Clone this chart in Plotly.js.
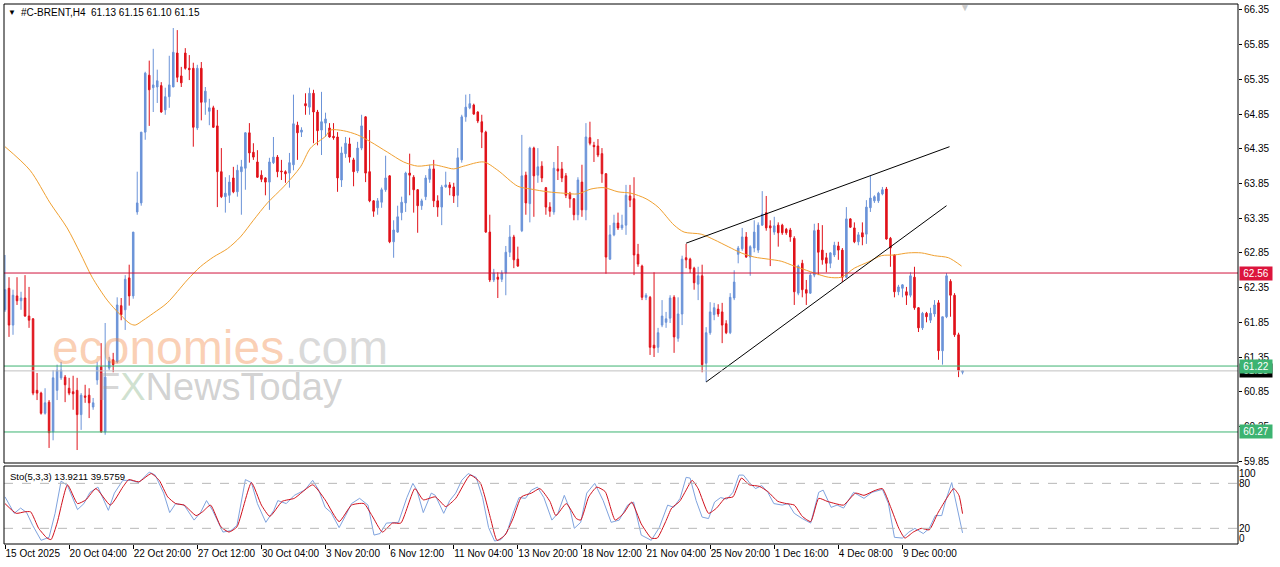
<!DOCTYPE html>
<html><head><meta charset="utf-8">
<script src="https://cdn.plot.ly/plotly-3.0.1.min.js"></script>
<style>html,body{margin:0;padding:0;background:#fff;}#chart{width:1280px;height:567px;}</style>
</head><body><div id="chart"></div>
<script>
// ---- Candles (H4 bars, index order) ----
const opens = [62.03,62.34,61.81,62.23,62.16,62.20,61.94,61.90,60.87,60.83,60.54,60.70,60.27,60.87,61.05,61.06,60.90,60.85,60.87,60.52,60.79,60.80,60.63,61.02,61.21,60.27,61.19,61.31,61.28,62.09,62.03,62.49,62.23,63.44,63.57,64.59,65.41,65.23,65.24,65.26,64.91,65.10,65.24,65.73,65.40,65.73,65.51,65.51,64.65,65.51,65.02,64.89,64.94,64.68,64.02,63.66,63.68,63.93,63.73,64.02,64.07,64.58,64.30,64.16,63.97,63.93,63.87,64.15,64.23,64.03,64.02,64.00,64.12,64.69,64.59,65.00,64.95,65.15,64.88,64.62,64.72,64.65,64.53,64.52,63.90,64.28,64.42,64.19,64.03,64.36,64.81,64.02,63.60,63.50,63.58,63.76,63.96,63.01,63.15,63.43,63.57,64.00,63.94,63.76,63.53,63.66,63.91,64.06,63.60,63.51,63.80,63.83,63.80,63.68,64.19,64.81,64.94,64.98,64.88,64.74,64.59,63.15,62.46,62.50,62.47,62.56,62.86,63.08,62.76,63.17,63.97,63.56,64.36,63.97,64.10,63.79,63.51,63.44,64.06,64.06,63.96,63.71,63.63,63.40,63.87,63.47,64.51,64.40,64.39,64.28,63.99,62.76,63.11,63.28,63.21,63.25,63.67,63.63,62.83,62.66,62.21,62.21,61.52,61.49,61.81,61.85,61.91,62.21,61.62,61.97,62.78,62.76,62.63,62.40,62.52,61.26,61.70,61.96,62.04,62.00,61.83,61.70,62.20,62.83,62.91,63.08,62.79,62.92,62.89,63.25,63.43,63.24,63.15,63.25,63.25,63.19,63.18,63.06,62.27,62.70,62.32,62.27,62.53,63.18,62.89,62.78,62.70,62.82,62.95,62.89,62.50,63.34,63.21,63.01,63.14,63.12,63.50,63.60,63.60,63.70,63.77,63.06,62.82,62.29,62.34,62.29,62.24,62.50,62.06,61.77,61.98,61.88,61.97,62.13,61.44,61.93,62.44,62.24,61.67,61.13];
const highs = [62.82,62.50,62.32,62.50,62.29,62.53,62.36,61.91,61.12,60.85,60.90,60.73,61.16,61.24,61.28,61.09,61.05,61.08,61.05,60.83,60.95,60.90,60.76,61.28,61.55,61.84,61.35,61.41,62.21,62.20,62.53,62.68,63.15,64.02,64.59,65.46,65.62,65.79,65.49,65.31,65.23,65.69,66.09,66.06,65.53,65.80,65.70,65.59,65.56,65.60,65.24,65.07,64.97,64.91,64.36,63.94,63.97,64.09,64.12,64.19,64.59,64.72,64.43,64.33,64.04,63.94,64.22,64.52,64.26,64.19,64.04,64.29,65.13,64.74,64.66,65.15,65.23,65.20,64.91,65.17,64.87,64.72,64.72,64.59,64.38,64.52,64.51,64.22,64.45,64.84,64.82,64.62,63.61,63.64,63.79,64.25,63.97,63.32,63.53,63.66,64.02,64.28,63.97,63.77,63.63,63.97,64.12,64.19,63.68,63.83,64.02,63.87,63.86,64.36,64.84,65.13,65.14,65.00,64.89,64.84,64.61,63.40,62.62,62.57,62.60,62.95,63.25,63.11,62.94,64.55,64.02,64.38,64.38,64.36,64.17,63.80,63.58,64.16,64.39,64.16,64.00,63.73,63.64,63.94,64.12,64.72,64.74,64.45,64.49,64.36,64.00,63.25,63.40,63.43,63.40,63.83,63.83,63.94,62.98,62.68,62.27,62.23,62.57,61.77,62.17,62.00,62.24,62.24,62.21,62.81,62.98,62.78,62.65,62.65,62.68,61.78,62.14,62.13,62.11,62.13,61.88,62.27,62.60,62.95,63.21,63.15,62.96,63.32,63.29,63.74,63.67,63.32,63.37,63.29,63.27,63.21,63.21,63.09,62.68,62.75,62.46,62.56,63.27,63.28,63.25,62.85,62.86,63.01,63.01,62.92,63.51,63.35,63.29,63.15,63.29,63.61,63.96,63.68,63.73,63.80,63.80,63.08,62.83,62.39,62.40,62.36,62.57,62.65,62.07,62.00,62.00,62.06,62.17,62.17,61.93,62.56,62.47,62.27,61.70,61.15];
const lows = [62.00,61.64,61.67,62.10,62.03,61.93,61.77,60.80,60.73,60.52,60.52,60.04,60.15,60.73,61.02,60.70,60.80,60.59,60.01,60.30,60.69,60.47,60.59,60.95,60.26,60.23,61.16,61.13,61.26,61.88,61.74,62.09,62.19,63.40,63.53,64.48,64.68,64.88,65.01,64.87,64.84,64.94,65.24,65.31,65.24,65.49,65.34,64.38,64.62,64.76,64.84,64.69,64.65,63.51,63.64,63.43,63.57,63.71,63.66,63.40,63.76,64.15,64.19,63.93,63.87,63.68,63.47,64.13,63.94,63.90,63.86,63.79,64.04,64.19,64.52,64.84,64.84,64.43,64.40,64.26,64.52,64.51,64.48,63.73,63.80,64.22,64.15,63.81,64.00,64.33,63.87,63.58,63.37,63.40,63.50,63.73,62.99,62.78,63.14,63.32,63.44,63.68,63.43,63.14,63.47,63.61,63.86,63.51,63.37,63.25,63.79,63.68,63.57,63.51,64.15,64.74,64.92,64.84,64.72,64.36,63.14,62.43,62.43,62.20,62.43,62.24,62.79,62.63,62.65,63.15,63.40,63.29,63.37,63.86,63.87,63.40,63.37,63.40,63.90,63.87,63.64,63.50,63.32,63.32,63.37,63.32,64.40,64.16,64.23,63.86,62.55,62.75,63.09,63.18,63.18,63.11,63.51,62.53,62.65,62.17,62.17,61.38,61.35,61.41,61.78,61.77,61.84,61.41,61.57,61.81,62.63,62.56,62.32,62.17,61.13,60.99,61.67,61.88,61.93,61.55,61.68,61.68,62.17,62.70,62.88,62.78,62.52,62.86,62.85,63.24,63.17,62.66,63.11,62.94,63.11,63.11,63.01,62.10,62.24,62.21,62.10,62.26,62.50,62.53,62.68,62.57,62.63,62.79,62.75,62.43,62.49,63.21,62.99,62.96,62.96,62.98,63.44,63.57,63.57,63.68,63.04,62.65,62.21,62.24,62.21,62.10,62.21,62.03,61.71,61.74,61.85,61.84,61.93,61.31,61.24,61.91,61.93,61.64,61.06,61.10];
const closes = [62.32,61.81,62.24,62.16,62.20,61.94,61.88,60.83,60.83,60.54,60.69,60.26,61.05,61.16,61.16,60.95,60.83,60.82,60.52,60.80,60.77,60.69,60.69,61.21,60.27,61.06,61.29,61.24,62.10,61.96,62.47,62.23,63.15,63.57,64.59,65.44,65.20,65.27,65.33,64.88,65.10,65.27,65.74,65.38,65.30,65.51,65.49,64.66,65.51,65.02,65.18,64.94,64.66,64.02,63.66,63.71,63.87,63.73,64.04,64.09,64.58,64.29,64.23,63.94,63.91,63.87,64.16,64.23,64.02,64.02,63.99,64.15,64.71,64.58,64.62,64.97,65.15,64.88,64.61,64.74,64.78,64.52,64.51,63.93,64.29,64.43,64.23,64.02,64.36,64.68,64.00,63.60,63.45,63.60,63.76,63.93,63.01,63.18,63.37,63.58,64.00,63.97,63.76,63.53,63.60,63.93,64.06,63.60,63.51,63.80,63.83,63.79,63.67,64.22,64.81,64.95,65.00,64.85,64.75,64.59,63.15,62.46,62.56,62.47,62.56,62.86,63.08,62.75,62.66,63.96,63.57,64.36,63.96,64.09,63.93,63.51,63.45,64.07,64.03,63.93,63.68,63.63,63.40,63.90,63.47,64.52,64.43,64.38,64.26,63.99,62.79,63.11,63.28,63.21,63.25,63.68,63.61,62.82,62.69,62.21,62.24,61.49,61.48,61.70,61.94,61.90,62.20,61.64,61.97,62.76,62.75,62.62,62.42,62.52,61.24,61.70,62.00,62.06,61.97,61.81,61.70,62.21,62.43,62.92,63.08,62.79,62.94,63.15,63.25,63.41,63.21,63.21,63.24,63.14,63.14,63.14,63.08,62.29,62.66,62.32,62.27,62.53,63.17,62.86,62.75,62.70,62.85,62.96,62.89,62.50,63.34,63.22,63.01,63.11,63.08,63.51,63.64,63.66,63.71,63.76,63.05,62.92,62.29,62.36,62.39,62.24,62.52,62.06,61.77,61.98,61.93,61.98,62.10,61.44,61.93,62.52,62.24,61.67,61.16,61.15];

// ---- Moving average (read at bar positions) ----
const maX = [0,6.25,11.25,15.5,18.75,21.75,25.5,28.75,31.25,32.5,34.5,37,40.5,45.5,48.75,52,55.5,58.75,62,65.5,69.5,73.75,76.25,80,81.25,84.5,88,91.25,95.5,99.5,103,107,109.5,112,114.5,119.5,123,128,131.25,135.5,139.5,143,146.25,149.5,153,156.25,160,163,167,169.5,173.75,177,180.5,183.75,187,190.5,193.75,197,200,202,205.5,208.75,212,215.5,218.75,222,225.5,228.75,232,235.5,238.75];
const maY = [64.38,64.04,63.57,63.21,62.85,62.50,62.17,61.96,61.83,61.81,61.88,61.98,62.13,62.46,62.65,62.79,62.91,63.08,63.32,63.57,63.80,64.09,64.36,64.53,64.62,64.61,64.55,64.45,64.30,64.16,64.10,64.12,64.09,64.06,64.10,64.16,64.04,63.81,63.77,63.73,63.71,63.70,63.77,63.79,63.73,63.71,63.63,63.51,63.25,63.15,63.12,63.04,62.94,62.85,62.79,62.76,62.73,62.66,62.60,62.56,62.50,62.50,62.63,62.72,62.81,62.82,62.85,62.85,62.81,62.78,62.66];

// ---- Stochastic (5,3,3) ----
const stochKx = [0,2.3,3.9,5.4,6.9,9,11,12.5,14,15.6,18.1,19.7,21.2,23.2,25.8,27.3,29.4,31.4,33.4,36,37.5,39.6,41.1,42.6,44.7,47.2,48.8,50.3,51.8,54.4,56.4,57.9,60,61.5,63,65.1,67.1,68.1,70.2,72.2,74.8,76.8,78.3,79.9,81.4,83.4,85,86.5,88.5,90.6,92.1,93.6,95.2,96.7,98.2,100.3,101.8,102.8,104.4,106.4,107.4,109.5,111,112.5,114,115.6,117.6,119.2,120.7,122.2,123.8,125.3,126.8,128.3,129.9,131.4,132.9,134.5,136.5,138,139.6,141.1,142.1,143.7,145.2,147.2,149.3,151.3,153.3,155.4,156.9,158.8,161.3,163.3,165.4,166.9,168.5,170,171,172.5,174,175.6,177.1,178.6,180.2,181.7,183.2,184.3,185.8,187.3,188.9,190.4,191.9,194,195.5,197,199,201.1,203.1,204.2,206.2,207.7,209.3,211.8,214.4,216.4,219,220.5,222,224,225.6,227.1,229.2,230.7,232.2,233.8,234.8,236.3,237.8,239];
const stochK = [62,40,47,41,24,4,8,40,83,77,45,53,68,75,44,67,84,84,81,95,91,67,41,53,51,31,41,57,44,15,17,24,85,81,53,28,44,57,53,64,71,84,71,48,41,21,37,53,60,51,11,13,27,27,28,61,80,71,41,67,64,40,57,67,84,93,88,61,21,3,5,15,40,61,60,71,75,61,31,40,64,44,20,28,67,80,57,28,31,51,55,11,4,21,51,48,60,88,87,57,35,33,55,61,59,68,91,91,81,73,77,68,53,51,53,40,33,27,68,71,48,51,47,68,60,68,72,53,8,7,15,20,13,20,37,37,57,81,44,13.92];
const stochDx = [0,2.8,4.9,6.4,8.4,10.5,11.5,13,15.6,18.1,20.2,22.7,26.3,29.4,30.9,33.4,36.5,38.5,40.6,42.6,44.7,47.7,49.3,51.3,53.9,55.9,57.9,61.5,64,66.1,69.2,72.2,76.8,79.9,83.4,86.5,89.6,91.6,94.2,96.7,98.8,102.3,104.4,107.4,110,112.5,116.1,118.6,121.2,122.8,124.8,126.8,128.9,131.4,133.5,136,137.5,140.1,142.6,143.7,145.7,147.7,149.8,152.3,154.4,156.4,158.8,161.3,162.8,164.9,166.4,168.4,170,171.5,173,175.6,177.6,179.7,181.7,183.8,185.8,188.3,190.4,192.9,195,197,199,201.1,203.1,205.2,207.2,209.3,212.3,214.4,216.9,219,221,223.1,224.6,226.7,228.7,230.7,232.8,234.8,236.8,238.1,239];
const stochD = [53,40,42,42,20,7,5,27,78,53,58,73,51,75,85,82,93,84,62,53,51,37,42,51,22,15,22,81,51,36,56,60,78,58,29,51,53,37,15,27,27,73,58,62,49,60,91,81,33,4,11,33,62,67,73,56,37,53,33,31,62,75,69,31,40,55,26,7,7,29,47,56,71,84,73,40,47,60,62,87,78,76,69,56,53,51,36,29,60,56,53,51,67,64,70,73,49,20,7,15,20,18,40,58,73,64,39.58];

// ---- Levels and trend lines ----
const resistance = 62.56, support1 = 61.22, support2 = 60.27, bid = 61.15;
const trendUpX = [170, 235.75], trendUpY = [62.99, 64.38];
const trendLoX = [175, 235], trendLoY = [60.99, 63.53];

// ---- Axis labels ----
const priceTicks = [66.35,65.85,65.35,64.85,64.35,63.85,63.35,62.85,62.35,61.85,61.35,60.85,60.35,59.85];
const timeTickIdx = [0,16,32,48,64,80,96,112,128,144,160,176,192,208,224];
const timeTickText = ['15 Oct 2025','20 Oct 04:00','22 Oct 20:00','27 Oct 12:00','30 Oct 04:00','3 Nov 20:00','6 Nov 12:00','11 Nov 04:00','13 Nov 20:00','18 Nov 12:00','21 Nov 04:00','25 Nov 20:00','1 Dec 16:00','4 Dec 08:00','9 Dec 00:00'];

const FONT = 'Liberation Sans, Arial, sans-serif';
const BULL = '#6B93D8', BEAR = '#E0121A';
const idx = opens.map((_, i) => i);

const traces = [
  {type:'candlestick', x:idx, open:opens, high:highs, low:lows, close:closes,
   xaxis:'x', yaxis:'y', whiskerwidth:0,
   increasing:{line:{color:BULL, width:1}, fillcolor:BULL},
   decreasing:{line:{color:BEAR, width:1}, fillcolor:BEAR}, hoverinfo:'skip'},
  {type:'scatter', mode:'lines', x:maX, y:maY, xaxis:'x', yaxis:'y',
   line:{color:'#F0A030', width:1, shape:'spline', smoothing:0.8}},
  {type:'scatter', mode:'lines', x:trendUpX, y:trendUpY, xaxis:'x', yaxis:'y', line:{color:'#000', width:1}},
  {type:'scatter', mode:'lines', x:trendLoX, y:trendLoY, xaxis:'x', yaxis:'y', line:{color:'#000', width:1}},
  {type:'scatter', mode:'lines', x:stochKx, y:stochK, xaxis:'x', yaxis:'y2', line:{color:'#7FA3DE', width:1}},
  {type:'scatter', mode:'lines', x:stochDx, y:stochD, xaxis:'x', yaxis:'y2', line:{color:'#D0101C', width:1, shape:'spline', smoothing:0.5}}
];

function hline(v, color){ return {type:'line', xref:'paper', x0:0, x1:1, yref:'y', y0:v, y1:v, line:{color:color, width:1}}; }
function pbox(v, txt, bg){ return {xref:'paper', x:1, xanchor:'left', xshift:1, yref:'y', y:v, yanchor:'middle',
  text:txt, showarrow:false, bgcolor:bg, font:{family:FONT, size:10, color:'#fff'}, borderpad:1, width:30, height:11}; }

const layout = {
  width:1280, height:567, margin:{l:4, r:42, t:4, b:23},
  paper_bgcolor:'#fff', plot_bgcolor:'#fff', showlegend:false, hovermode:false,
  boxgap:0.45,
  xaxis:{domain:[0,1], range:[-0.25,307.75], anchor:'y2', showgrid:false, zeroline:false, showline:false,
    tickvals:timeTickIdx, ticktext:timeTickText, ticks:'outside', ticklen:4, tickcolor:'#000', tickangle:0,
    ticklabelposition:'outside right', tickfont:{family:FONT, size:10, color:'#000'},
    rangeslider:{visible:false}, fixedrange:true},
  yaxis:{domain:[0.15,1], range:[59.823,66.436], side:'right', anchor:'x', showgrid:false, zeroline:false,
    tickvals:priceTicks, ticktext:priceTicks.map(v=>v.toFixed(2)), ticks:'outside', ticklen:3, tickcolor:'#000',
    tickfont:{family:FONT, size:10, color:'#000'}, fixedrange:true},
  yaxis2:{domain:[0,0.1444], range:[-0.9,103.1], side:'right', anchor:'x', showgrid:false, zeroline:false,
    tickvals:[6.5,20,80,93.5], ticktext:['0','20','80','100'], ticks:'',
    tickfont:{family:FONT, size:10, color:'#000'}, fixedrange:true},
  shapes:[
    {type:'line', xref:'paper', x0:0, x1:1, yref:'y2', y0:20, y1:20, line:{color:'#B8B8B8', width:1, dash:'dash'}},
    {type:'line', xref:'paper', x0:0, x1:1, yref:'y2', y0:80, y1:80, line:{color:'#B8B8B8', width:1, dash:'dash'}},
    hline(bid, '#C0C0C0'),
    hline(resistance, '#D0143C'),
    hline(support1, '#3CB371'),
    hline(support2, '#3CB371'),
    {type:'rect', xref:'paper', x0:0, x1:1, yref:'y domain', y0:0, y1:1, line:{color:'#000', width:1}},
    {type:'rect', xref:'paper', x0:0, x1:1, yref:'y2 domain', y0:0, y1:1, line:{color:'#000', width:1}}
  ],
  annotations:[
    {xref:'paper', x:0.1750, yref:'paper', y:0.3648, xanchor:'center', yanchor:'middle', showarrow:false,
     text:'<span style="color:rgba(242,130,60,0.38)">economies</span><span style="color:rgba(150,150,150,0.35)">.com</span>',
     font:{family:FONT, size:48}},
    {xref:'paper', x:0.1750, yref:'paper', y:0.2907, xanchor:'center', yanchor:'middle', showarrow:false,
     text:'<span style="color:rgba(150,150,150,0.4)">F</span><span style="color:rgba(120,170,120,0.35)">X</span><span style="color:rgba(140,140,140,0.4)">NewsToday</span>',
     font:{family:FONT, size:38}},
    {xref:'paper', x:0, xshift:2, yref:'paper', y:1, yshift:-8, xanchor:'left', yanchor:'middle', showarrow:false,
     text:'▼', font:{family:FONT, size:8, color:'#000'}},
    {xref:'paper', x:0, xshift:15, yref:'paper', y:1, yshift:-8, xanchor:'left', yanchor:'middle', showarrow:false,
     text:'#C-BRENT,H4  61.13 61.15 61.10 61.15', font:{family:FONT, size:10, color:'#000'}},
    {xref:'paper', x:0.7788, yref:'paper', y:1, yshift:-3, xanchor:'center', yanchor:'middle', showarrow:false,
     text:'▼', font:{family:FONT, size:10, color:'#C8C8C8'}},
    {xref:'paper', x:0, xshift:4, yref:'y2 domain', y:1, yshift:-10, xanchor:'left', yanchor:'middle', showarrow:false,
     text:'Sto(5,3,3) 13.9211 39.5759', font:{family:FONT, size:9.5, color:'#000'}},
    pbox(resistance, '62.56', '#DC143C'),
    pbox(bid, '61.15', '#000000'),
    pbox(support1, '61.22', '#3CB371'),
    pbox(support2, '60.27', '#3CB371')
  ]
};

Plotly.newPlot('chart', traces, layout, {staticPlot:true, displayModeBar:false});
</script></body></html>
